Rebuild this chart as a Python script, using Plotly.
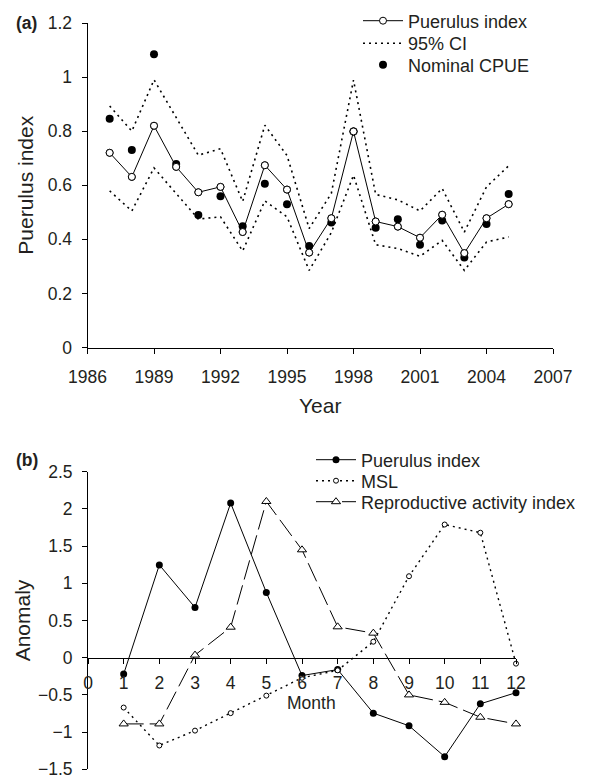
import plotly.graph_objects as go

# ---- Panel (a): annual puerulus index ----
years = list(range(1987, 2006))
puerulus_index = [0.72, 0.631, 0.82, 0.668, 0.574, 0.594, 0.427, 0.674, 0.584, 0.351,
                  0.478, 0.799, 0.466, 0.447, 0.406, 0.491, 0.349, 0.478, 0.53]
nominal_cpue = [0.846, 0.73, 1.084, 0.679, 0.49, 0.559, 0.448, 0.606, 0.53, 0.375,
                0.462, 0.799, 0.443, 0.474, 0.38, 0.47, 0.333, 0.457, 0.568]
ci_upper = [0.893, 0.80, 0.99, 0.85, 0.711, 0.735, 0.54, 0.822, 0.71, 0.44,
            0.57, 0.989, 0.566, 0.546, 0.505, 0.588, 0.427, 0.594, 0.672]
ci_lower = [0.579, 0.505, 0.664, 0.569, 0.475, 0.483, 0.357, 0.542, 0.483, 0.285,
            0.425, 0.637, 0.38, 0.366, 0.337, 0.396, 0.285, 0.39, 0.409]

# ---- Panel (b): monthly anomalies ----
months = list(range(1, 13))
puerulus_anom = [-0.22, 1.247, 0.675, 2.078, 0.877, -0.24, -0.16, -0.745, -0.915, -1.33, -0.62, -0.47]
msl_anom = [-0.67, -1.18, -0.98, -0.745, -0.51, -0.27, -0.17, 0.215, 1.095, 1.79, 1.68, -0.08]
repro_anom = [-0.89, -0.89, 0.035, 0.41, 2.10, 1.45, 0.415, 0.33, -0.50, -0.60, -0.80, -0.89]

W, H = 590, 779
FONT = "Liberation Sans, Arial, Helvetica, sans-serif"
TXT = "#231f20"
FS = 17.5
LFS = 18

# plot-area rectangles in pixels
a_x0, a_x1, a_y0, a_y1 = 87.5, 553, 23, 347.5
b_x0, b_x1, b_y0, b_y1 = 88, 516, 471.7, 769.3
A_YR = [0, 1.2]
B_YR = [-1.5, 2.5]

dom_ax = [a_x0 / W, a_x1 / W]
dom_ay = [1 - a_y1 / H, 1 - a_y0 / H]
dom_bx = [b_x0 / W, b_x1 / W]
dom_by = [1 - b_y1 / H, 1 - b_y0 / H]
# month axis crosses the anomaly axis at zero
zero_frac = (0 - B_YR[0]) / (B_YR[1] - B_YR[0])
month_axis_pos = dom_by[0] + zero_frac * (dom_by[1] - dom_by[0])

fig = go.Figure()

dotted = "2px,4px"

fig.add_trace(go.Scatter(
    x=years, y=puerulus_index, mode="lines+markers", name="Puerulus index",
    line=dict(color="black", width=1),
    marker=dict(symbol="circle", size=7, color="white", line=dict(color="black", width=1)),
    xaxis="x", yaxis="y", legend="legend"))
fig.add_trace(go.Scatter(
    x=years, y=ci_upper, mode="lines", name="95% CI",
    line=dict(color="black", width=1.6, dash=dotted),
    xaxis="x", yaxis="y", legend="legend2"))
fig.add_trace(go.Scatter(
    x=years, y=ci_lower, mode="lines", name="95% CI", showlegend=False,
    line=dict(color="black", width=1.6, dash=dotted),
    xaxis="x", yaxis="y", legend="legend2"))
fig.add_trace(go.Scatter(
    x=years, y=nominal_cpue, mode="markers", name="Nominal CPUE",
    marker=dict(symbol="circle", size=8, color="black"),
    xaxis="x", yaxis="y", legend="legend3"))
# redraw the index markers on top of the CPUE dots
fig.add_trace(go.Scatter(
    x=years, y=puerulus_index, mode="markers", showlegend=False, hoverinfo="skip",
    marker=dict(symbol="circle", size=7, color="white", line=dict(color="black", width=1)),
    xaxis="x", yaxis="y"))

fig.add_trace(go.Scatter(
    x=months, y=puerulus_anom, mode="lines+markers", name="Puerulus index",
    line=dict(color="black", width=1),
    marker=dict(symbol="circle", size=7, color="black"),
    xaxis="x2", yaxis="y2", legend="legend4", cliponaxis=False))
fig.add_trace(go.Scatter(
    x=months, y=msl_anom, mode="lines+markers", name="MSL",
    line=dict(color="black", width=1.4, dash="2px,4px"),
    marker=dict(symbol="circle", size=5, color="white", line=dict(color="black", width=1)),
    xaxis="x2", yaxis="y2", legend="legend5", cliponaxis=False))
fig.add_trace(go.Scatter(
    x=months, y=repro_anom, mode="lines+markers", name="Reproductive activity index",
    line=dict(color="black", width=1, dash="20px,6px"),
    marker=dict(symbol="triangle-up", size=8, color="white", line=dict(color="black", width=1)),
    xaxis="x2", yaxis="y2", legend="legend6", cliponaxis=False))

axis_common = dict(
    showgrid=False, zeroline=False, showline=True, linecolor="black", linewidth=1,
    ticks="outside", ticklen=5, tickcolor="black", tickwidth=1,
    tickfont=dict(family=FONT, size=FS, color=TXT), automargin=False,
    ticklabeloverflow="allow",
)


def legend_row(x_px, y_px):
    return dict(x=x_px / W, y=1 - y_px / H, xanchor="left", yanchor="middle",
                bgcolor="rgba(0,0,0,0)", borderwidth=0, itemwidth=40,
                font=dict(family=FONT, size=LFS, color=TXT))


fig.update_layout(
    width=W, height=H,
    margin=dict(l=0, r=0, t=0, b=0),
    paper_bgcolor="white", plot_bgcolor="white",
    font=dict(family=FONT, size=FS, color=TXT),
    xaxis=dict(axis_common, domain=dom_ax, range=[1986, 2007], tick0=1986, dtick=3,
               anchor="y", ticklabelstandoff=8, title=dict(text="Year", standoff=12)),
    yaxis=dict(axis_common, domain=dom_ay, range=A_YR, dtick=0.2, anchor="x",
               ticklabelstandoff=6, title=dict(text="Puerulus index", standoff=8)),
    xaxis2=dict(axis_common, domain=dom_bx, range=[0, 12], dtick=1,
                anchor="free", position=month_axis_pos, ticklabelstandoff=4),
    yaxis2=dict(axis_common, domain=dom_by, range=B_YR, dtick=0.5, anchor="x2",
                ticklabelstandoff=6, title=dict(text="Anomaly", standoff=1)),
    legend=legend_row(358, 21),
    legend2=legend_row(358, 43.5),
    legend3=legend_row(358, 65),
    legend4=legend_row(311, 460),
    legend5=legend_row(311, 481),
    legend6=legend_row(311, 502),
    annotations=[
        dict(text="<b>(a)</b>", x=14 / W, y=1 - 23 / H, xref="paper", yref="paper",
             xanchor="left", yanchor="middle", showarrow=False,
             font=dict(family=FONT, size=FS, color=TXT)),
        dict(text="<b>(b)</b>", x=14 / W, y=1 - 460 / H, xref="paper", yref="paper",
             xanchor="left", yanchor="middle", showarrow=False,
             font=dict(family=FONT, size=FS, color=TXT)),
        dict(text="Month", x=311 / W, y=1 - 703 / H, xref="paper", yref="paper",
             xanchor="center", yanchor="middle", showarrow=False,
             font=dict(family=FONT, size=FS, color=TXT)),
    ],
)

fig.write_html("out.html")
